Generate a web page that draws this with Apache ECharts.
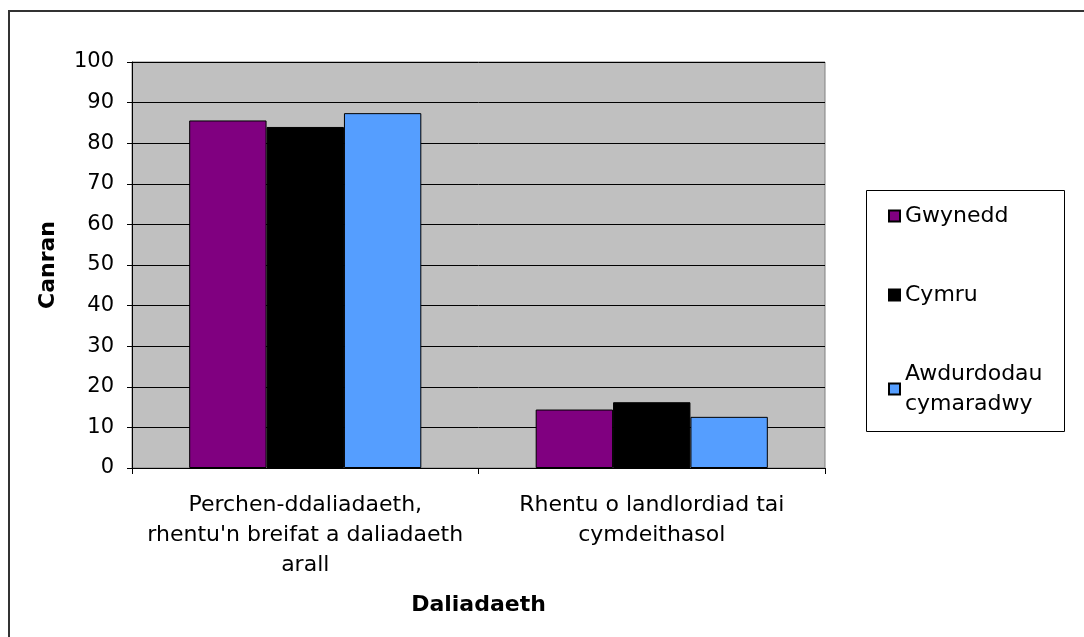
<!DOCTYPE html>
<html>
<head>
<meta charset="utf-8">
<script src="https://cdn.jsdelivr.net/npm/echarts@6/dist/echarts.min.js"></script>
<style>
  html, body { margin: 0; padding: 0; background: #fff; }
  #chart { width: 1084px; height: 637px; }
</style>
</head>
<body>
<div id="chart"></div>
<script>
// categories (tick labels wrapped as in the picture)
var categories = [
  "Perchen-ddaliadaeth,\nrhentu'n breifat a daliadaeth\narall",
  "Rhentu o landlordiad tai\ncymdeithasol"
];
var seriesNames = ["Gwynedd", "Cymru", "Awdurdodau cymaradwy"];
var gwynedd = [85.6, 14.4];
var cymru = [84.0, 16.2];
var awdurdodau = [87.4, 12.6];
var yTicks = { min: 0, max: 100, interval: 10 };

var colors = ["#800080", "#000000", "#559EFF"];
var font = "DejaVu Sans";

var chart = echarts.init(document.getElementById("chart"));

function bar(name, data, color) {
  return {
    name: name,
    type: "bar",
    data: data,
    barGap: "0%",
    barCategoryGap: "33%",
    itemStyle: { color: color, borderColor: "#000", borderWidth: 1 },
    emphasis: { disabled: true }
  };
}

var option = {
  animation: false,
  backgroundColor: "#fff",
  textStyle: { fontFamily: font, color: "#000" },
  grid: {
    left: 132, right: 259, top: 62, bottom: 169,
    show: true,
    backgroundColor: "#c0c0c0",
    borderColor: "#808080",
    borderWidth: 1
  },
  legend: {
    orient: "vertical",
    left: 888, top: 201,
    padding: 0,
    icon: "rect",
    itemWidth: 11, itemHeight: 11,
    itemGap: 49,
    data: seriesNames,
    formatter: function (n) { return n.replace(" ", "\n"); },
    textStyle: { fontFamily: font, fontSize: 22, lineHeight: 30, color: "#000" }
  },
  xAxis: {
    type: "category",
    data: categories,
    name: "Daliadaeth",
    nameLocation: "middle",
    nameGap: 126,
    nameTextStyle: { fontFamily: font, fontSize: 22, fontWeight: "bold", color: "#000" },
    axisLine: { lineStyle: { color: "#000", width: 1 } },
    axisTick: { show: true, length: 6, lineStyle: { color: "#000" } },
    axisLabel: { fontFamily: font, fontSize: 22, lineHeight: 30, color: "#000", margin: 22, interval: 0 }
  },
  yAxis: {
    type: "value",
    min: yTicks.min, max: yTicks.max, interval: yTicks.interval,
    name: "Canran",
    nameLocation: "middle",
    nameRotate: 90,
    nameGap: 73,
    nameTextStyle: { fontFamily: font, fontSize: 22, fontWeight: "bold", color: "#000" },
    axisLine: { show: true, lineStyle: { color: "#000", width: 1 } },
    axisTick: { show: true, length: 5, lineStyle: { color: "#000" } },
    axisLabel: { fontFamily: font, fontSize: 21, color: "#000", margin: 18 },
    splitLine: { show: true, lineStyle: { color: "#000", width: 1 } }
  },
  graphic: [
    {
      type: "rect",
      shape: { x: 9, y: 11, width: 1200, height: 800 },
      style: { fill: "none", stroke: "#333", lineWidth: 2 },
      silent: true
    },
    {
      type: "rect",
      shape: { x: 866.5, y: 190.5, width: 198, height: 241 },
      style: { fill: "none", stroke: "#000", lineWidth: 1 },
      silent: true
    }
  ],
  series: [
    bar(seriesNames[0], gwynedd, colors[0]),
    bar(seriesNames[1], cymru, colors[1]),
    bar(seriesNames[2], awdurdodau, colors[2])
  ]
};

chart.setOption(option);
</script>
</body>
</html>
